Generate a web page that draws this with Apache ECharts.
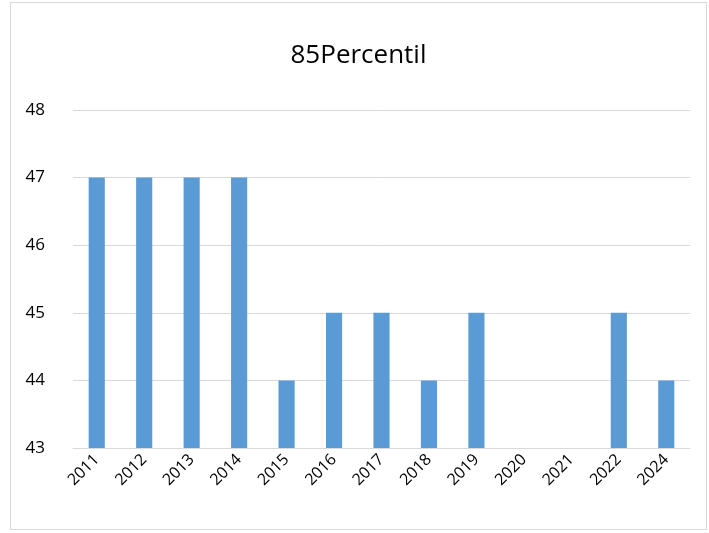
<!DOCTYPE html>
<html>
<head>
<meta charset="utf-8">
<script src="https://cdn.jsdelivr.net/npm/echarts@6/dist/echarts.min.js"></script>
<style>
html, body { margin: 0; padding: 0; background: #fff; }
#main { position: absolute; left: 10px; top: 2px; width: 697px; height: 528px; border: 1px solid #d9d9d9; box-sizing: border-box; }
</style>
</head>
<body>
<div id="main"></div>
<script>
var years = ['2011', '2012', '2013', '2014', '2015', '2016', '2017', '2018', '2019', '2020', '2021', '2022', '2024'];
var values = [47, 47, 47, 47, 44, 45, 45, 44, 45, null, null, 45, 44];

var myChart = echarts.init(document.getElementById('main'));

var option = {
  animation: false,
  title: {
    text: '85Percentil',
    left: 'center',
    top: 35,
    textStyle: { fontFamily: 'Open Sans', fontSize: 26, fontWeight: 'normal', color: '#000' }
  },
  grid: { left: 62, right: 16, top: 107, bottom: 81 },
  xAxis: {
    type: 'category',
    data: years,
    axisLine: { lineStyle: { color: '#d9d9d9' } },
    axisTick: { show: false },
    axisLabel: { rotate: 45, color: '#000', fontSize: 16, fontFamily: 'Open Sans', interval: 0, margin: 9 }
  },
  yAxis: {
    type: 'value',
    min: 43,
    max: 48,
    interval: 1,
    axisLine: { show: false },
    axisTick: { show: false },
    axisLabel: { color: '#000', fontSize: 17, fontFamily: 'Open Sans', margin: 28 },
    splitLine: { lineStyle: { color: '#d9d9d9' } }
  },
  series: [{
    type: 'bar',
    data: values,
    barWidth: '34%',
    itemStyle: { color: '#5b9bd5' }
  }]
};

myChart.setOption(option);
</script>
</body>
</html>
